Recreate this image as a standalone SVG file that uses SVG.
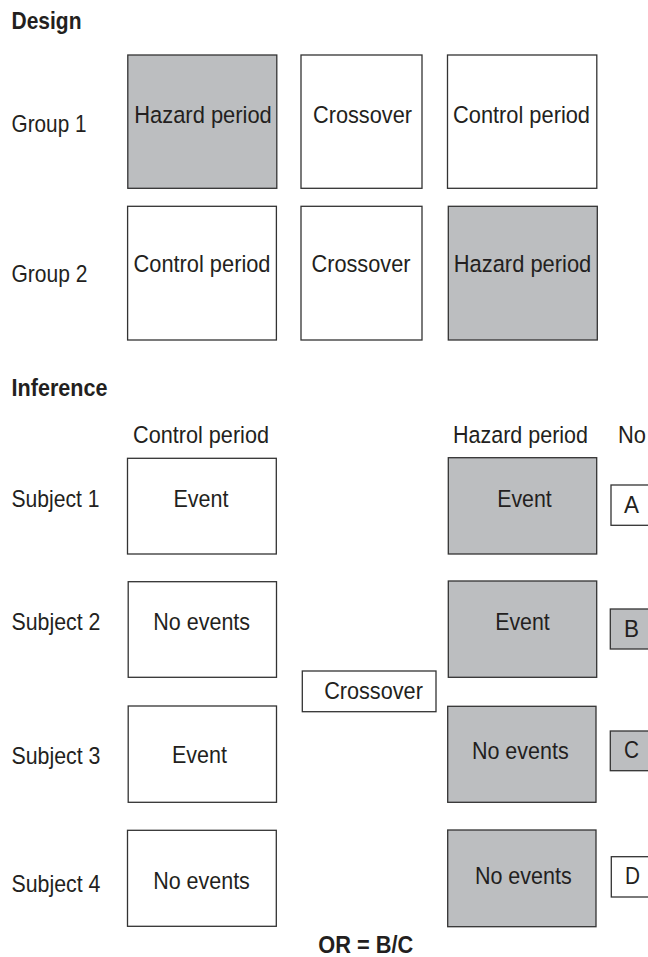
<svg xmlns="http://www.w3.org/2000/svg" width="648" height="957" viewBox="0 0 648 957">
<style>
  text { font-family: "Liberation Sans", Arial, sans-serif; fill: #231f20; font-size: 24.5px; }
  .h { font-weight: bold; }
  .c { text-anchor: middle; }
  .box { fill: #ffffff; stroke: #333333; stroke-width: 1.3; }
  .haz { fill: #bcbec0; stroke: #333333; stroke-width: 1.3; }
</style>
<rect width="648" height="957" fill="#ffffff"/>

<g id="design-labels">
  <text class="h" x="11.5" y="29.3" font-size="22" textLength="70" lengthAdjust="spacingAndGlyphs">Design</text>
  <text x="11.5" y="131.7" textLength="75" lengthAdjust="spacingAndGlyphs">Group 1</text>
  <text x="11.5" y="281.7" textLength="76" lengthAdjust="spacingAndGlyphs">Group 2</text>
</g>

<g id="g1-hazard">
  <rect class="haz" x="127.8" y="55" width="149" height="133.3"/>
  <text class="c" x="203" y="123.3" textLength="137.5" lengthAdjust="spacingAndGlyphs">Hazard period</text>
</g>
<g id="g1-crossover">
  <rect class="box" x="301" y="55" width="121" height="133.3"/>
  <text class="c" x="362.5" y="123.3" textLength="99" lengthAdjust="spacingAndGlyphs">Crossover</text>
</g>
<g id="g1-control">
  <rect class="box" x="447.5" y="55" width="149.3" height="133.3"/>
  <text class="c" x="521.5" y="123.3" textLength="137" lengthAdjust="spacingAndGlyphs">Control period</text>
</g>

<g id="g2-control">
  <rect class="box" x="127.6" y="206.3" width="148.8" height="133.7"/>
  <text class="c" x="202" y="271.7" textLength="137" lengthAdjust="spacingAndGlyphs">Control period</text>
</g>
<g id="g2-crossover">
  <rect class="box" x="301" y="206.3" width="121" height="133.7"/>
  <text class="c" x="361" y="271.7" textLength="99" lengthAdjust="spacingAndGlyphs">Crossover</text>
</g>
<g id="g2-hazard">
  <rect class="haz" x="448.3" y="206.3" width="149" height="133.7"/>
  <text class="c" x="522.5" y="271.7" textLength="137.5" lengthAdjust="spacingAndGlyphs">Hazard period</text>
</g>

<g id="inference-labels">
  <text class="h" x="11.5" y="395.7" font-size="22" textLength="96" lengthAdjust="spacingAndGlyphs">Inference</text>
  <text x="133" y="443" textLength="136" lengthAdjust="spacingAndGlyphs">Control period</text>
  <text x="453" y="442.7" textLength="135" lengthAdjust="spacingAndGlyphs">Hazard period</text>
  <text x="618" y="442.7" textLength="28" lengthAdjust="spacingAndGlyphs">No</text>
  <text x="11.5" y="506.7" textLength="88" lengthAdjust="spacingAndGlyphs">Subject 1</text>
  <text x="11.5" y="630" textLength="89" lengthAdjust="spacingAndGlyphs">Subject 2</text>
  <text x="11.5" y="764" textLength="89" lengthAdjust="spacingAndGlyphs">Subject 3</text>
  <text x="11.5" y="892" textLength="89" lengthAdjust="spacingAndGlyphs">Subject 4</text>
</g>

<g id="s1-control">
  <rect class="box" x="127.5" y="458.3" width="148.8" height="95.7"/>
  <text class="c" x="201" y="506.7" textLength="55" lengthAdjust="spacingAndGlyphs">Event</text>
</g>
<g id="s2-control">
  <rect class="box" x="128.2" y="581.7" width="148.3" height="95.6"/>
  <text class="c" x="201.7" y="630" textLength="96.7" lengthAdjust="spacingAndGlyphs">No events</text>
</g>
<g id="s3-control">
  <rect class="box" x="128.2" y="706" width="148.3" height="96.3"/>
  <text class="c" x="199.5" y="762.7" textLength="55" lengthAdjust="spacingAndGlyphs">Event</text>
</g>
<g id="s4-control">
  <rect class="box" x="127.5" y="830.3" width="148.8" height="96"/>
  <text class="c" x="201.5" y="889" textLength="96.7" lengthAdjust="spacingAndGlyphs">No events</text>
</g>

<g id="crossover">
  <rect class="box" x="302.3" y="671" width="133.7" height="40.7"/>
  <text class="c" x="373.5" y="699" textLength="98.7" lengthAdjust="spacingAndGlyphs">Crossover</text>
</g>

<g id="s1-hazard">
  <rect class="haz" x="448.3" y="457.7" width="148.4" height="96.3"/>
  <text class="c" x="524.5" y="506.7" textLength="54.5" lengthAdjust="spacingAndGlyphs">Event</text>
</g>
<g id="s2-hazard">
  <rect class="haz" x="448.3" y="581" width="148.4" height="96.3"/>
  <text class="c" x="522.5" y="630" textLength="54.5" lengthAdjust="spacingAndGlyphs">Event</text>
</g>
<g id="s3-hazard">
  <rect class="haz" x="447.7" y="706.3" width="148.3" height="96"/>
  <text class="c" x="520.3" y="759" textLength="96.7" lengthAdjust="spacingAndGlyphs">No events</text>
</g>
<g id="s4-hazard">
  <rect class="haz" x="447.7" y="830" width="148.3" height="96.7"/>
  <text class="c" x="523.3" y="884" textLength="96.7" lengthAdjust="spacingAndGlyphs">No events</text>
</g>

<g id="cell-A">
  <rect class="box" x="611" y="485" width="60" height="40.3"/>
  <text x="624" y="513.3" textLength="15" lengthAdjust="spacingAndGlyphs">A</text>
</g>
<g id="cell-B">
  <rect class="haz" x="610.3" y="609" width="60" height="40"/>
  <text x="624" y="636.7" textLength="15" lengthAdjust="spacingAndGlyphs">B</text>
</g>
<g id="cell-C">
  <rect class="haz" x="610.3" y="731" width="60" height="39.7"/>
  <text x="624" y="758.3" textLength="15" lengthAdjust="spacingAndGlyphs">C</text>
</g>
<g id="cell-D">
  <rect class="box" x="611.3" y="856.7" width="60" height="40.3"/>
  <text x="625" y="884.3" textLength="15" lengthAdjust="spacingAndGlyphs">D</text>
</g>

<g id="connectors"></g>

<text class="h" x="318.3" y="952.5" font-size="23" textLength="95" lengthAdjust="spacingAndGlyphs">OR = B/C</text>
</svg>
